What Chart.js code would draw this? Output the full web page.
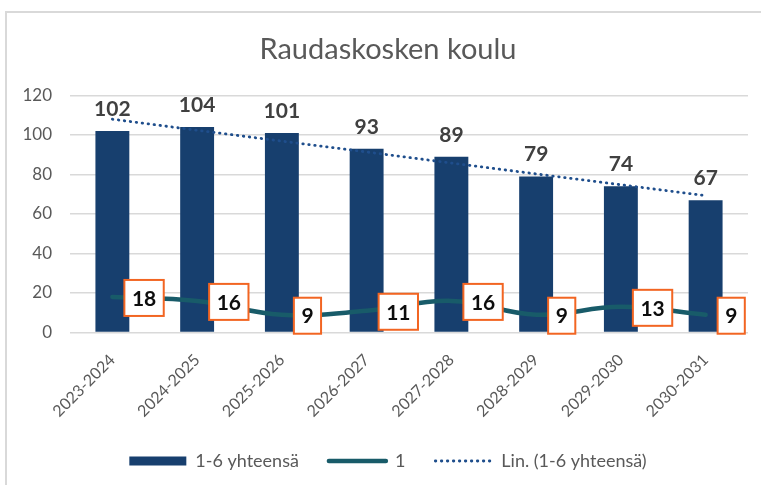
<!DOCTYPE html>
<html>
<head>
<meta charset="utf-8">
<script src="https://cdn.jsdelivr.net/npm/chart.js@4.4.1/dist/chart.umd.min.js"></script>
<style>
  html, body { margin: 0; padding: 0; background: #fff; overflow: hidden; }
  #frame { position: absolute; left: 5px; top: 11px; width: 900px; height: 600px; border: 2px solid #d9d9d9; }
  #myChart { position: absolute; left: 0; top: 0; }
</style>
</head>
<body>
<div id="frame"></div>
<canvas id="myChart" width="761" height="485"></canvas>
<script>
// Chart data
const years = ["2023-2024", "2024-2025", "2025-2026", "2026-2027", "2027-2028", "2028-2029", "2029-2030", "2030-2031"];
const totals = [102, 104, 101, 93, 89, 79, 74, 67];
const firstGrade = [18, 16, 9, 11, 16, 9, 13, 9];
// linear trend of totals
const trend = [108.0, 102.4, 96.9, 91.4, 85.8, 80.3, 74.8, 69.3];
const yMin = 0;
const yMax = 120;
const yStep = 20;

const ctx = document.getElementById("myChart");
Chart.defaults.font.family = "Lato";

// value labels: plain numbers over bars, boxed numbers for the line
const valueLabels = {
  id: "valueLabels",
  afterDatasetsDraw: (chart) => {
    const c = chart.ctx;
    c.save();
    c.font = "bold 21px Lato";
    c.textAlign = "center";
    chart.getDatasetMeta(0).data.forEach((bar, i) => {
      c.fillStyle = "#404040";
      c.textBaseline = "alphabetic";
      c.fillText(totals[i], bar.x, bar.y - 15);
    });
    chart.getDatasetMeta(1).data.forEach((pt, i) => {
      const txt = String(firstGrade[i]);
      const w = c.measureText(txt).width + 15;
      const h = 36;
      const left = pt.x + 12;
      const top = pt.y + 1 - h / 2;
      c.fillStyle = "#fff";
      c.fillRect(left, top, w, h);
      c.lineWidth = 2;
      c.strokeStyle = "#F26522";
      c.strokeRect(left, top, w, h);
      c.fillStyle = "#0d0d0d";
      c.textBaseline = "middle";
      c.fillText(txt, left + w / 2, top + h / 2 + 1);
    });
    c.restore();
  },
};

const data = {
  labels: years,
  datasets: [
    {
      type: "bar",
      label: "1-6 yhteensä",
      data: totals,
      backgroundColor: "#173F6E",
      barPercentage: 0.4,
      categoryPercentage: 1,
      order: 3,
    },
    {
      type: "line",
      label: "1",
      data: firstGrade,
      borderColor: "#185B69",
      backgroundColor: "#185B69",
      borderWidth: 4.5,
      borderCapStyle: "round",
      tension: 0.4,
      pointRadius: 0,
      order: 2,
    },
    {
      type: "line",
      label: "Lin. (1-6 yhteensä)",
      data: trend,
      borderColor: "#1F4E8C",
      borderWidth: 2.8,
      borderDash: [0.5, 5.5],
      borderCapStyle: "round",
      pointRadius: 0,
      order: 1,
    },
  ],
};

const config = {
  data,
  options: {
    responsive: false,
    animation: false,
    layout: { padding: { left: 15, right: 0, top: 10, bottom: 5 } },
    plugins: {
      tooltip: { enabled: false },
      title: {
        display: true,
        text: "Raudaskosken koulu",
        color: "#595959",
        font: { size: 29, weight: "normal" },
        padding: { top: 22, bottom: 28.7 },
      },
      legend: {
        position: "bottom",
        labels: {
          color: "#595959",
          font: { size: 18 },
          usePointStyle: true,
          pointStyleWidth: 57,
          boxHeight: 9,
          padding: 30,
          generateLabels: (chart) =>
            chart.data.datasets.map((ds, i) => ({
              text: ds.label,
              fillStyle: ds.type === "bar" ? ds.backgroundColor : "rgba(0,0,0,0)",
              strokeStyle: ds.borderColor || ds.backgroundColor,
              lineWidth: ds.type === "bar" ? 0 : ds.borderWidth,
              lineDash: ds.borderDash || [],
              lineCap: "round",
              pointStyle: ds.type === "bar" ? "rect" : "line",
              fontColor: "#595959",
              hidden: false,
              datasetIndex: i,
            })),
        },
      },
    },
    scales: {
      x: {
        grid: { display: false },
        border: { display: false },
        ticks: { color: "#595959", font: { size: 16 }, minRotation: 45, maxRotation: 45, padding: 10 },
        afterFit: (s) => { s.height = 89.5; },
      },
      y: {
        min: yMin,
        max: yMax,
        ticks: { stepSize: yStep, color: "#595959", font: { size: 17 }, padding: 18 },
        grid: { color: "#d9d9d9", lineWidth: 1.5, drawTicks: false },
        border: { display: false },
        afterFit: (s) => { s.width = 55; },
      },
      // empty right-hand spacer so the title centres on the whole frame
      yRight: {
        position: "right",
        grid: { display: false },
        border: { display: false },
        ticks: { display: false },
        afterFit: (s) => { s.width = 13; },
      },
    },
  },
  plugins: [valueLabels],
};

new Chart(ctx, config);
</script>
</body>
</html>
